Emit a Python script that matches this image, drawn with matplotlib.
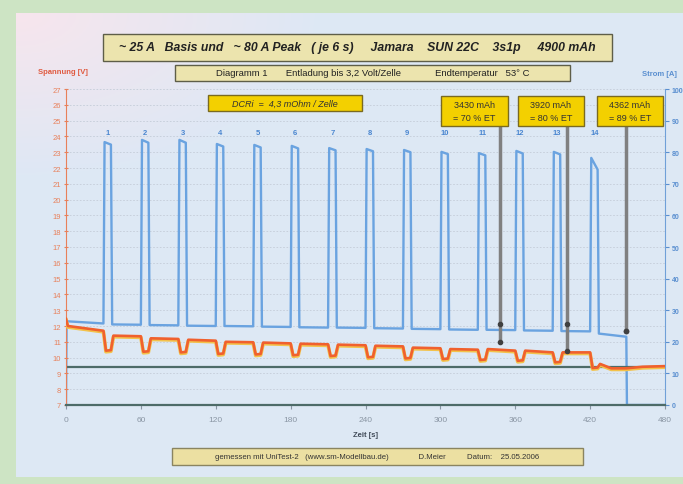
import numpy as np
import matplotlib.pyplot as plt
from matplotlib.patches import Rectangle

plt.rcParams['font.family'] = ['Liberation Sans', 'DejaVu Sans']

# Strompulse (Strom in A)
peak_start = [30, 60, 90, 120, 150, 180, 210, 240, 270, 300, 330, 360, 390, 420]
peak_top = [83.2, 83.9, 83.9, 82.6, 82.3, 82.0, 81.3, 81.0, 80.7, 80.1, 79.7, 80.4, 80.1, 78.2]
peak_top_end = [82.4, 83.0, 83.0, 81.8, 81.5, 81.2, 80.6, 80.3, 80.0, 79.4, 79.0, 79.6, 79.3, 74.5]
base_before = [25.8, 25.4, 25.2, 25.0, 24.9, 24.7, 24.5, 24.4, 24.2, 24.0, 23.8, 23.7, 23.5, 23.3]
base_after = [25.5, 25.3, 25.1, 25.0, 24.8, 24.6, 24.5, 24.3, 24.1, 23.9, 23.8, 23.6, 23.4, 22.6]
t_cutoff = 449
i_start = 26.5
i_end = 21.6

# Spannung (V)
v_start = [12.45, 12.0]
v_before = [11.70, 11.35, 11.18, 11.07, 10.97, 10.90, 10.84, 10.78, 10.71, 10.59, 10.50, 10.44, 10.33, 10.33]
v_dip = [10.44, 10.37, 10.33, 10.23, 10.20, 10.15, 10.10, 10.02, 9.95, 9.91, 9.85, 9.80, 9.70, 9.34]
v_after = [11.39, 11.22, 11.13, 11.00, 10.95, 10.88, 10.82, 10.75, 10.63, 10.54, 10.54, 10.44, 10.33, 9.60]
v_tail_t = [437, 449, 462, 480]
v_tail = [9.32, 9.32, 9.42, 9.46]
v_cutoff_line = 9.4

# Markierungen (t, oberer Punkt, unterer Punkt)
mark_t = [348, 401.5, 449]
mark_v_top = [12.13, 12.13, 11.7]
mark_v_bot = [11.0, 10.44, 11.7]
mark_text = ['3430 mAh\n= 70 % ET', '3920 mAh\n= 80 % ET', '4362 mAh\n= 89 % ET']

x_ticks = [0, 60, 120, 180, 240, 300, 360, 420, 480]

W, H = 683, 485


def fig_rect(x0, y0, x1, y1):
    return [x0 / W, 1 - y1 / H, (x1 - x0) / W, (y1 - y0) / H]


def box(fig, x0, y0, x1, y1, text, fc, ec, **kw):
    fig.add_artist(Rectangle((x0 / W, 1 - y1 / H), (x1 - x0) / W, (y1 - y0) / H,
                             transform=fig.transFigure, fc=fc, ec=ec, lw=1.0, zorder=5))
    fig.text((x0 + x1) / 2 / W, 1 - (y0 + y1) / 2 / H, text, ha='center', va='center',
             zorder=6, **kw)


fig = plt.figure(figsize=(W / 100, H / 100), dpi=100)
fig.patch.set_facecolor('#cde4c4')

# Hintergrund mit leichtem Verlauf
bg = fig.add_axes(fig_rect(16, 14, 683, 478))
bg.axis('off')
gx, gy = np.meshgrid(np.linspace(0, 1, 200), np.linspace(0, 1, 200))
w = np.clip(1 - np.sqrt((gx / 0.45) ** 2 + (gy / 0.35) ** 2), 0, 1)[..., None]
pink = np.array([0.97, 0.90, 0.93])
blue = np.array([0.87, 0.91, 0.96])
bg.imshow(w * pink + (1 - w) * blue, extent=[0, 1, 0, 1], aspect='auto', origin='upper')

# Achsen
ax = fig.add_axes(fig_rect(66, 90, 665, 406))
ax2 = ax.twinx()
ax.set_zorder(2)
ax2.set_zorder(1)
ax.patch.set_visible(False)
ax2.patch.set_facecolor('#e8eff8')

# Strom zusammensetzen
t_i = [0, 0.5]
i_v = [0, i_start]
for k, s in enumerate(peak_start):
    t_i += [s, s + 0.9, s + 6.0, s + 7.0]
    i_v += [base_before[k], peak_top[k], peak_top_end[k], base_after[k]]
t_i += [t_cutoff, t_cutoff + 0.5, 480]
i_v += [i_end, 0, 0]

# Spannung zusammensetzen
t_u = [0, 1.5]
u_v = list(v_start)
for k, s in enumerate(peak_start):
    t_u += [s, s + 2, s + 6, s + 8]
    u_v += [v_before[k], v_dip[k], v_dip[k] + 0.03, v_after[k]]
t_u += v_tail_t
u_v += v_tail
t_u = np.array(t_u)
u_v = np.array(u_v)

ax2.plot(t_i, i_v, color='#6aa3e0', lw=1.7, zorder=3)
ax.axhline(v_cutoff_line, color='#4d6b68', lw=1.6, zorder=2)
ax.plot(t_u, u_v - 0.07, color='#f3c24a', lw=2.6, zorder=3)
ax.plot(t_u, u_v, color='#f0602e', lw=1.9, zorder=4)

for k, s in enumerate(peak_start):
    ax2.text(s + 3.5, 86.3, str(k + 1), color='#4a86d0', fontsize=5.5,
             ha='center', va='center', fontweight='bold')

for k in range(3):
    ax.plot([mark_t[k], mark_t[k]], [24.66, mark_v_bot[k]], color='#808080', lw=2.5, zorder=5)
    ax.plot([mark_t[k], mark_t[k]], [mark_v_top[k], mark_v_bot[k]], ls='none', marker='o',
            ms=3, color='#404040', zorder=6)

ax.set_xlim(0, 480)
ax.set_ylim(7, 27)
ax2.set_ylim(0, 100)
ax.set_xticks(x_ticks)
ax.set_yticks(range(7, 28))
ax2.set_yticks(range(0, 101, 10))
ax2.set_yticks(range(0, 101, 5), minor=True)

ax2.grid(True, which='minor', axis='y', color='#c4ccd8', lw=0.6, ls=(0, (2, 2)))
ax2.grid(True, which='major', axis='y', color='#c4ccd8', lw=0.6, ls=(0, (2, 2)))
ax2.xaxis.grid(True, color='#aeb8c4', lw=0.8)
ax2.set_axisbelow(True)

for a in (ax, ax2):
    a.spines['top'].set_visible(False)
ax.spines['right'].set_visible(False)
ax2.spines['left'].set_visible(False)
ax.spines['left'].set_color('#e8805a')
ax2.spines['right'].set_color('#70a0d8')
ax.spines['bottom'].set_color('#4d6b68')
ax.spines['bottom'].set_linewidth(1.6)
ax2.spines['bottom'].set_visible(False)

ax.tick_params(axis='y', colors='#e8805a', labelsize=5.5, length=3, direction='inout', pad=2)
ax.tick_params(axis='x', colors='#8a96a4', labelsize=6, length=3, pad=5)
ax2.tick_params(axis='y', which='major', colors='#5a8fd0', labelsize=5, length=3, pad=2)
ax2.tick_params(axis='y', which='minor', length=0)
for lab in ax2.get_yticklabels():
    lab.set_fontweight('bold')

ax.set_xlabel('Zeit [s]', fontsize=5.5, fontweight='bold', color='#404a58', labelpad=6)
fig.text(38 / W, 1 - 73 / H, 'Spannung [V]', fontsize=5.5, fontweight='bold',
         color='#e05a40', va='center')
fig.text(642 / W, 1 - 74 / H, 'Strom [A]', fontsize=5.5, fontweight='bold',
         color='#5a8fd0', va='center')

# Textkästen
box(fig, 103, 35, 612, 62,
    '~ 25 A   Basis und   ~ 80 A Peak   ( je 6 s)     Jamara    SUN 22C    3s1p     4900 mAh',
    '#ece4ae', '#5e5e48', fontsize=8.8, fontweight='bold', fontstyle='italic', color='#222222')
box(fig, 175, 66, 570, 82,
    'Diagramm 1       Entladung bis 3,2 Volt/Zelle             Endtemperatur   53° C',
    '#ece4ae', '#5e5e48', fontsize=6.8, color='#222222')
box(fig, 172, 449, 583, 466,
    'gemessen mit UniTest-2   (www.sm-Modellbau.de)              D.Meier          Datum:    25.05.2006',
    '#ece0a2', '#8a8460', fontsize=5.6, color='#333333')
box(fig, 208, 96, 362, 112, 'DCRi  =  4,3 mOhm / Zelle', '#f3d000', '#7a6a20',
    fontsize=6.5, fontstyle='italic', color='#333333')
for k, (x0, x1) in enumerate([(441, 508), (518, 584), (597, 663)]):
    box(fig, x0, 97, x1, 127, mark_text[k], '#f3d000', '#7a6a20', fontsize=6.5,
        color='#333333', linespacing=1.6)

fig.savefig('out.png', dpi=100, facecolor=fig.get_facecolor())
